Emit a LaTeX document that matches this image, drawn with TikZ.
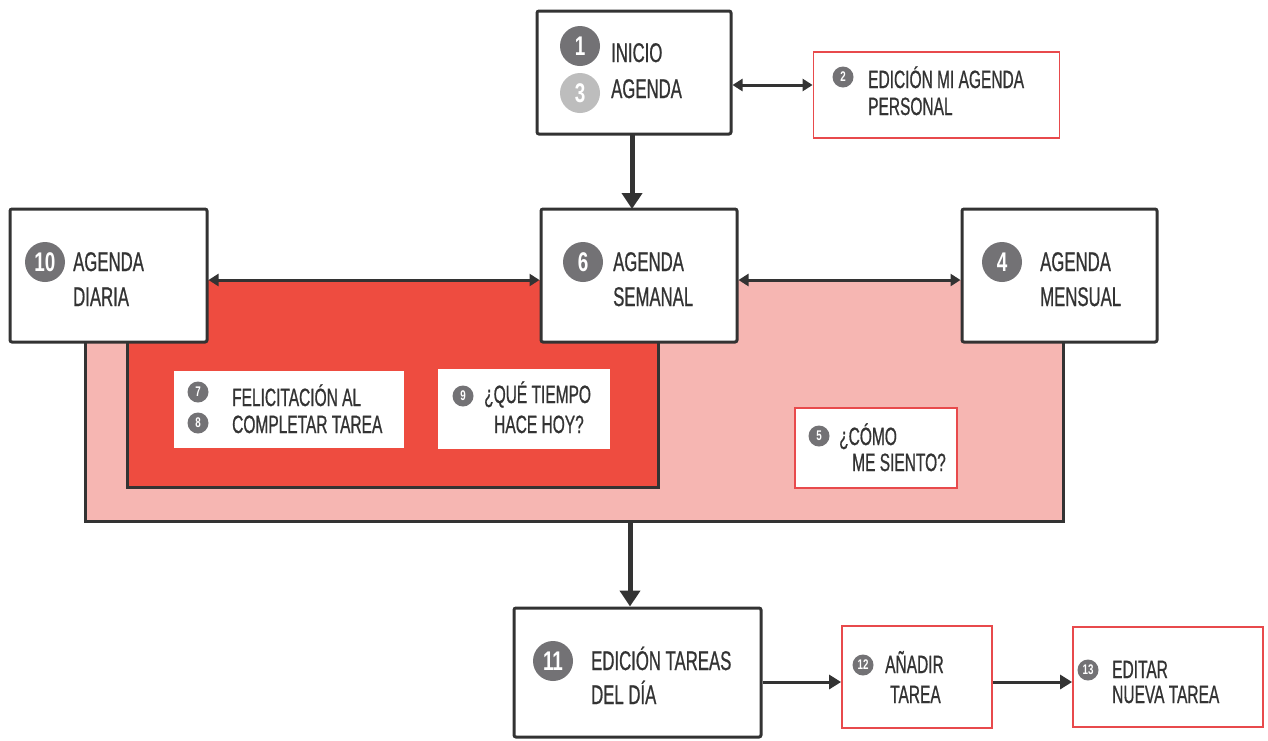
\documentclass[tikz,border=0pt]{standalone}
\usepackage{fontspec}
\setmainfont{Liberation Sans}[FakeStretch=0.62, FakeBold=0.7]
\newfontfamily\numfont{Liberation Sans Bold}[FakeStretch=0.7]
\usetikzlibrary{arrows.meta}
\definecolor{dk}{HTML}{333333}
\definecolor{rd}{HTML}{E84A4C}
\definecolor{pk}{HTML}{F6B6B2}
\definecolor{rf}{HTML}{EE4C40}
\definecolor{cg}{HTML}{737275}
\definecolor{lg}{HTML}{BDBDBD}
\tikzset{
  blk/.style={draw=dk, line width=3pt, fill=white, rounded corners=2pt, inner sep=0},
  rbox/.style={draw=rd, line width=1.8pt, fill=white, inner sep=0},
  wbox/.style={fill=white, inner sep=0},
  numL/.style={circle, fill=cg, text=white, inner sep=0, minimum size=40, font=\numfont\fontsize{27}{27}\selectfont},
  numS/.style={circle, fill=cg, text=white, inner sep=0, minimum size=21, font=\numfont\fontsize{14}{14}\selectfont},
  txtL/.style={anchor=base west, inner sep=0, text=dk, font=\fontsize{27}{27}\selectfont},
  txtS/.style={anchor=base west, inner sep=0, text=dk, font=\fontsize{25}{25}\selectfont},
  dbl/.style={draw=dk, line width=3pt, {Triangle[length=10pt,width=12pt]}-{Triangle[length=10pt,width=12pt]}},
  bigar/.style={draw=dk, line width=5pt, -{Triangle[length=16pt,width=20pt]}},
  sar/.style={draw=dk, line width=3pt, -{Triangle[length=12pt,width=14pt]}},
  brd/.style={draw=dk, line width=3pt}
}
\begin{document}
\begin{tikzpicture}[x=1pt,y=-1pt]
\useasboundingbox (0,0) rectangle (1268,740);
% regions
\node[fill=pk, inner sep=0, minimum width=977, minimum height=241] (wk) at (574.5,400.5) {};
\draw[brd] (wk.north west) -- (wk.south west) -- (wk.south east) -- (wk.north east);
\node[fill=rf, inner sep=0, minimum width=530, minimum height=207] (dy) at (393,383.5) {};
\draw[brd] (dy.north west) -- (dy.south west) -- (dy.south east) -- (dy.north east);
% boxes
\node[blk, minimum width=194, minimum height=123] (b1) at (634,72.5) {};
\node[rbox, minimum width=246, minimum height=86] (b2) at (936.5,95) {};
\node[blk, minimum width=197, minimum height=133] (b10) at (108.5,275.5) {};
\node[blk, minimum width=196, minimum height=133] (b6) at (639,275.5) {};
\node[blk, minimum width=195, minimum height=133] (b4) at (1059.5,275.5) {};
\node[wbox, minimum width=230, minimum height=77] (b7) at (289,409) {};
\node[wbox, minimum width=172, minimum height=80] (b9) at (524,409) {};
\node[rbox, minimum width=162, minimum height=80] (b5) at (876,448) {};
\node[blk, minimum width=247, minimum height=129] (b11) at (637.5,672.5) {};
\node[rbox, minimum width=150, minimum height=102] (b12) at (917,677) {};
\node[rbox, minimum width=190, minimum height=100] (b13) at (1168,677) {};
% circles and texts
\node[numL] (n1) at (580,46) {1};
\node[numL, fill=lg] (n3) at (580,93) {3};
\node[txtL] (t1a) at (611,62) {INICIO};
\node[txtL] (t1b) at (611,98) {AGENDA};
\node[numS] (n2) at (843,77) {2};
\node[txtS] (t2a) at (868,88) {EDICIÓN MI AGENDA};
\node[txtS] (t2b) at (868,115) {PERSONAL};
\node[numL] (n10) at (45,262) {10};
\node[txtL] (t10a) at (73,271) {AGENDA};
\node[txtL] (t10b) at (73,306) {DIARIA};
\node[numL] (n6) at (583,262) {6};
\node[txtL] (t6a) at (613,271) {AGENDA};
\node[txtL] (t6b) at (613,306) {SEMANAL};
\node[numL] (n4) at (1002,262) {4};
\node[txtL] (t4a) at (1040,271) {AGENDA};
\node[txtL] (t4b) at (1040,306) {MENSUAL};
\node[numS] (n7) at (198,392) {7};
\node[numS] (n8) at (198,423) {8};
\node[txtS] (t7a) at (232,406) {FELICITACIÓN AL};
\node[txtS] (t7b) at (232,433) {COMPLETAR TAREA};
\node[numS] (n9) at (463,396) {9};
\node[txtS] (t9a) at (484,403) {¿QUÉ TIEMPO};
\node[txtS] (t9b) at (494,433) {HACE HOY?};
\node[numS] (n5) at (819,436) {5};
\node[txtS] (t5a) at (839,445) {¿CÓMO};
\node[txtS] (t5b) at (852,471) {ME SIENTO?};
\node[numL] (n11) at (553,661) {11};
\node[txtL] (t11a) at (591,670) {EDICIÓN TAREAS};
\node[txtL] (t11b) at (591,704) {DEL DÍA};
\node[numS] (n12) at (863,665) {12};
\node[txtS] (t12a) at (885,673) {AÑADIR};
\node[txtS] (t12b) at (890,703) {TAREA};
\node[numS] (n13) at (1088,670) {13};
\node[txtS] (t13a) at (1112,678) {EDITAR};
\node[txtS] (t13b) at (1112,703) {NUEVA TAREA};
% connectors
\coordinate (a1) at (632,134);
\coordinate (a6) at (632,209);
\draw[bigar] (a1) -- (a6);
\draw[dbl] ([yshift=-12.5]b1.east) -- ([yshift=10]b2.west);
\draw[dbl] ([yshift=-4.5]b10.east) -- ([yshift=-4.5]b6.west);
\draw[dbl] ([yshift=-4.5]b6.east) -- ([yshift=-4.5]b4.west);
\coordinate (wb) at (630,521);
\draw[bigar] (wb) -- (wb |- b11.north);
\draw[sar] ([yshift=-9.5]b11.east) -- ([yshift=-5]b12.west);
\draw[sar] ([yshift=-5]b12.east) -- ([yshift=-5]b13.west);
\end{tikzpicture}
\end{document}
